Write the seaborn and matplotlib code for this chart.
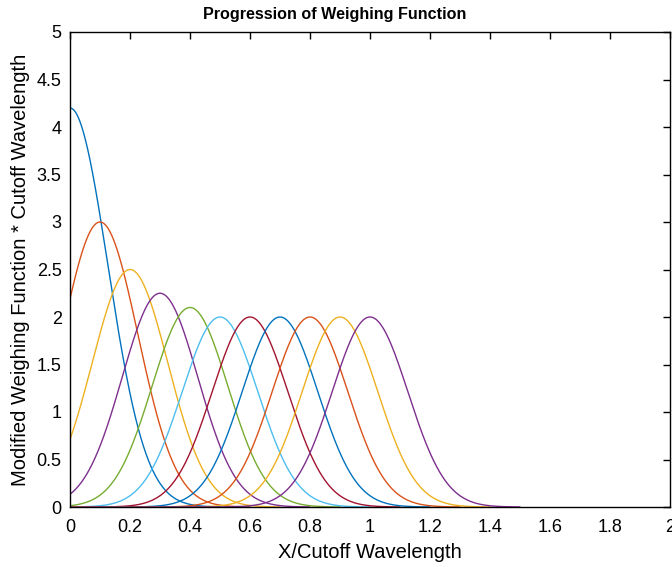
import numpy as np
import pandas as pd
import matplotlib
matplotlib.use("Agg")
import matplotlib.pyplot as plt
import seaborn as sns

# Data
centers = [0.0, 0.1, 0.2, 0.3, 0.4, 0.5, 0.6, 0.7, 0.8, 0.9, 1.0]
peaks = [4.2, 3.0, 2.5, 2.25, 2.1, 2.0, 2.0, 2.0, 2.0, 2.0, 2.0]
decay = 31.4          # Gaussian exponent coefficient (exp(-decay*(x-c)^2))
half_span = 0.5       # each curve drawn from 0 to center + half_span
colors = ["#0072BD", "#D95319", "#EDB120", "#7E2F8E", "#77AC30", "#4DBEEE",
          "#A2142F", "#0072BD", "#D95319", "#EDB120", "#7E2F8E"]

x_ticks = [0, 0.2, 0.4, 0.6, 0.8, 1, 1.2, 1.4, 1.6, 1.8, 2]
x_tick_labels = ["0", "0.2", "0.4", "0.6", "0.8", "1", "1.2", "1.4", "1.6", "1.8", "2"]
y_ticks = [0, 0.5, 1, 1.5, 2, 2.5, 3, 3.5, 4, 4.5, 5]
y_tick_labels = ["0", "0.5", "1", "1.5", "2", "2.5", "3", "3.5", "4", "4.5", "5"]

sns.set_style("white")
plt.rcParams["font.family"] = ["Liberation Sans", "DejaVu Sans"]
plt.rcParams["text.color"] = "black"
plt.rcParams["axes.labelcolor"] = "black"

fig = plt.figure(figsize=(6.72, 5.67), dpi=100)
ax = fig.add_axes([70 / 672, 60 / 567, 600 / 672, 475 / 567])

frames = []
for i, (c, p) in enumerate(zip(centers, peaks)):
    xs = np.linspace(0, c + half_span, 400)
    ys = p * np.exp(-decay * (xs - c) ** 2)
    frames.append(pd.DataFrame({"x": xs, "y": ys, "curve": i}))
df = pd.concat(frames, ignore_index=True)

sns.lineplot(data=df, x="x", y="y", hue="curve", palette=colors,
             legend=False, linewidth=1.0, ax=ax, sort=False, estimator=None)

ax.set_xlim(0, 2)
ax.set_ylim(0, 5)
ax.set_xticks(x_ticks)
ax.set_xticklabels(x_tick_labels)
ax.set_yticks(y_ticks)
ax.set_yticklabels(y_tick_labels)
ax.tick_params(direction="in", length=5, width=1, labelsize=13,
               top=True, right=True, colors="black")
ax.tick_params(axis="x", pad=9)
ax.tick_params(axis="y", pad=6)
for s in ax.spines.values():
    s.set_visible(True)
    s.set_color("black")
    s.set_linewidth(1.0)

ax.set_xlabel("X/Cutoff Wavelength", fontsize=14.5, labelpad=5)
ax.set_ylabel("Modified Weighing Function * Cutoff Wavelength", fontsize=14.5, labelpad=5)
fig.text(335 / 672, 1 - 14 / 567, "Progression of Weighing Function",
         family=["Liberation Sans", "DejaVu Sans"],
         fontsize=11.6, fontweight="bold", ha="center", va="center", color="black")

fig.savefig("out.png", dpi=100)
